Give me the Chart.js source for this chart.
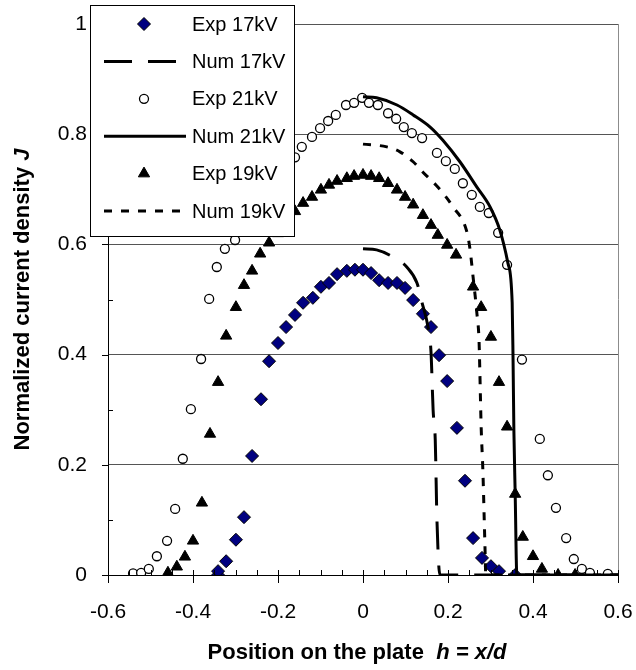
<!DOCTYPE html>
<html>
<head>
<meta charset="utf-8">
<script src="https://cdn.jsdelivr.net/npm/chart.js@4.4.0/dist/chart.umd.min.js"></script>
<style>
  html, body { margin: 0; padding: 0; background: #fff; }
  canvas { display: block; }
</style>
</head>
<body>
<canvas id="myChart" width="636" height="670"></canvas>
<script>
// Data
const exp17X = [-0.341, -0.341, -0.322, -0.299, -0.28, -0.261, -0.24, -0.221, -0.2, -0.181, -0.16, -0.141, -0.118, -0.099, -0.08, -0.061, -0.038, -0.019, 0, 0.019, 0.038, 0.059, 0.08, 0.099, 0.118, 0.141, 0.16, 0.179, 0.198, 0.221, 0.24, 0.259, 0.28, 0.301, 0.32, 0.358];
const exp17Y = [0, 0.007, 0.025, 0.064, 0.105, 0.216, 0.319, 0.388, 0.421, 0.45, 0.472, 0.494, 0.503, 0.523, 0.53, 0.546, 0.552, 0.554, 0.554, 0.548, 0.535, 0.53, 0.53, 0.521, 0.499, 0.474, 0.45, 0.399, 0.352, 0.267, 0.171, 0.067, 0.031, 0.016, 0.007, 0];

const num17X = [0, 0.032, 0.071, 0.103, 0.127, 0.139, 0.153, 0.16, 0.165, 0.17, 0.174, 0.181, 0.6];
const num17Y = [0.592, 0.59, 0.577, 0.559, 0.53, 0.494, 0.45, 0.405, 0.299, 0.245, 0.1, 0, 0];

const exp21X = [-0.541, -0.522, -0.504, -0.485, -0.461, -0.442, -0.424, -0.405, -0.381, -0.362, -0.344, -0.325, -0.301, -0.28, -0.26, -0.24, -0.22, -0.2, -0.18, -0.16, -0.144, -0.12, -0.101, -0.082, -0.064, -0.04, -0.021, -0.002, 0.014, 0.035, 0.059, 0.078, 0.096, 0.115, 0.139, 0.174, 0.195, 0.216, 0.235, 0.256, 0.275, 0.296, 0.318, 0.339, 0.374, 0.416, 0.435, 0.454, 0.478, 0.496, 0.515, 0.534, 0.576];
const exp21Y = [0.003, 0.004, 0.011, 0.034, 0.062, 0.12, 0.211, 0.301, 0.392, 0.501, 0.559, 0.592, 0.608, 0.635, 0.66, 0.685, 0.705, 0.725, 0.742, 0.758, 0.777, 0.795, 0.811, 0.824, 0.835, 0.853, 0.857, 0.866, 0.857, 0.853, 0.838, 0.828, 0.813, 0.802, 0.793, 0.766, 0.751, 0.737, 0.711, 0.69, 0.668, 0.657, 0.621, 0.563, 0.391, 0.247, 0.181, 0.122, 0.067, 0.029, 0.011, 0.004, 0.002];

const num21X = [0, 0.032, 0.08, 0.118, 0.158, 0.188, 0.228, 0.268, 0.299, 0.322, 0.341, 0.351, 0.353, 0.355, 0.358, 0.362, 0.6];
const num21Y = [0.868, 0.866, 0.853, 0.835, 0.813, 0.789, 0.75, 0.704, 0.668, 0.626, 0.566, 0.494, 0.396, 0.263, 0.151, 0, 0];

const exp19X = [-0.459, -0.438, -0.419, -0.4, -0.379, -0.36, -0.341, -0.322, -0.299, -0.28, -0.261, -0.242, -0.221, -0.2, -0.18, -0.16, -0.141, -0.12, -0.099, -0.08, -0.061, -0.038, -0.021, 0, 0.019, 0.038, 0.059, 0.08, 0.099, 0.118, 0.141, 0.16, 0.176, 0.198, 0.219, 0.259, 0.278, 0.301, 0.32, 0.339, 0.358, 0.376, 0.4, 0.421, 0.459, 0.499];
const exp19Y = [0.004, 0.015, 0.033, 0.062, 0.131, 0.256, 0.35, 0.434, 0.486, 0.526, 0.552, 0.583, 0.603, 0.62, 0.64, 0.66, 0.675, 0.686, 0.699, 0.708, 0.715, 0.72, 0.724, 0.726, 0.724, 0.72, 0.711, 0.699, 0.686, 0.672, 0.653, 0.635, 0.617, 0.599, 0.581, 0.523, 0.486, 0.432, 0.35, 0.269, 0.147, 0.069, 0.034, 0.011, 0, 0];

const num19X = [0, 0.056, 0.087, 0.118, 0.141, 0.176, 0.212, 0.245, 0.252, 0.259, 0.268, 0.273, 0.275, 0.278, 0.282, 0.287, 0.289, 0.6];
const num19Y = [0.782, 0.777, 0.768, 0.75, 0.731, 0.704, 0.668, 0.621, 0.59, 0.541, 0.475, 0.426, 0.367, 0.269, 0.191, 0.051, 0, 0];

const xTickValues = [-0.6, -0.4, -0.2, 0, 0.2, 0.4, 0.6];
const yTickValues = [0, 0.2, 0.4, 0.6, 0.8, 1];
const xTitle = ['Position on the plate  ', 'h = x/d'];
const yTitle = ['Normalized current density ', 'J'];

const FONT = "'Liberation Sans', Arial, sans-serif";

function pts(xs, ys) {
  return xs.map((x, i) => ({ x: x, y: ys[i] }));
}

const datasets = [
  { label: 'Exp 17kV', data: pts(exp17X, exp17Y), showLine: false, pointStyle: 'rectRot', pointRadius: 6.5,
    backgroundColor: '#000080', borderColor: '#000000', borderWidth: 1 },
  { label: 'Num 17kV', data: pts(num17X, num17Y), showLine: true, pointRadius: 0, borderColor: '#000',
    borderWidth: 3, borderDash: [28, 16], cubicInterpolationMode: 'monotone' },
  { label: 'Exp 21kV', data: pts(exp21X, exp21Y), showLine: false, pointStyle: 'circle', pointRadius: 4.5,
    backgroundColor: '#ffffff', borderColor: '#000000', borderWidth: 1.3 },
  { label: 'Num 21kV', data: pts(num21X, num21Y), showLine: true, pointRadius: 0, borderColor: '#000',
    borderWidth: 3, cubicInterpolationMode: 'monotone' },
  { label: 'Exp 19kV', data: pts(exp19X, exp19Y), showLine: false, pointStyle: 'triangle', pointRadius: 6.5,
    backgroundColor: '#000000', borderColor: '#000000', borderWidth: 1 },
  { label: 'Num 19kV', data: pts(num19X, num19Y), showLine: true, pointRadius: 0, borderColor: '#000',
    borderWidth: 3, borderDash: [8, 9], cubicInterpolationMode: 'monotone' }
];
// later series on top, like the original
datasets.forEach((d, i) => { d.order = 10 - i; d.fill = false; d.borderCapStyle = 'butt'; });

function fmt(v) {
  return String(Number(Number(v).toFixed(2)));
}

function noPad(s) {
  s.paddingLeft = 0; s.paddingRight = 0; s.paddingTop = 0; s.paddingBottom = 0;
}

// plot frame, minor ticks, titles, legend
const decorations = {
  id: 'decorations',
  beforeDatasetsDraw(chart) {
    const { ctx, chartArea: a } = chart;
    ctx.save();
    ctx.strokeStyle = '#8c8c8c';
    ctx.lineWidth = 1;
    ctx.beginPath();
    ctx.moveTo(a.right + 0.5, a.top);
    ctx.lineTo(a.right + 0.5, a.bottom);
    ctx.stroke();
    ctx.restore();
  },
  afterDraw(chart) {
    const { ctx, chartArea: a, scales } = chart;
    const xs = scales.x, ys = scales.y;
    ctx.save();
    ctx.strokeStyle = '#000';
    ctx.lineWidth = 1;
    ctx.beginPath();
    // x ticks
    for (let i = 0; i <= 24; i++) {
      const v = -0.6 + i * 0.05;
      const px = Math.round(xs.getPixelForValue(v)) + 0.5;
      if (i % 4 === 0) {
        ctx.moveTo(px, a.bottom - 5);
        ctx.lineTo(px, a.bottom + 8);
      } else {
        ctx.moveTo(px, a.bottom - 5);
        ctx.lineTo(px, a.bottom);
      }
    }
    // y ticks
    for (let i = 0; i <= 10; i++) {
      const v = i * 0.1;
      const py = Math.round(ys.getPixelForValue(v)) + 0.5;
      if (i % 2 === 0) {
        ctx.moveTo(a.left - 6, py);
        ctx.lineTo(a.left, py);
      } else {
        ctx.moveTo(a.left, py);
        ctx.lineTo(a.left + 5, py);
      }
    }
    ctx.stroke();

    // axis titles
    ctx.fillStyle = '#000';
    ctx.textBaseline = 'alphabetic';
    const f1 = 'bold 22px ' + FONT;
    const f2 = 'italic bold 22px ' + FONT;
    ctx.font = f1; const xa = ctx.measureText(xTitle[0]).width;
    ctx.font = f2; const xb = ctx.measureText(xTitle[1]).width;
    let sx = 357 - (xa + xb) / 2;
    ctx.textAlign = 'left';
    ctx.font = f1; ctx.fillText(xTitle[0], sx, 659);
    ctx.font = f2; ctx.fillText(xTitle[1], sx + xa, 659);

    ctx.save();
    ctx.translate(29, (a.top + a.bottom) / 2);
    ctx.rotate(-Math.PI / 2);
    ctx.font = f1; const ya = ctx.measureText(yTitle[0]).width;
    ctx.font = f2; const yb = ctx.measureText(yTitle[1]).width;
    sx = -(ya + yb) / 2;
    ctx.font = f1; ctx.fillText(yTitle[0], sx, 0);
    ctx.font = f2; ctx.fillText(yTitle[1], sx + ya, 0);
    ctx.restore();

    // legend box over the plot
    const L = 90, T = 5, R = 294, B = 236;
    ctx.fillStyle = '#fff';
    ctx.fillRect(L, T, R - L, B - T);
    ctx.strokeStyle = '#000';
    ctx.lineWidth = 1;
    ctx.strokeRect(L + 0.5, T + 0.5, R - L, B - T);
    const rowH = 37.4;
    chart.data.datasets.forEach((d, i) => {
      const cy = T + 19 + i * rowH;
      if (d.showLine) {
        ctx.save();
        ctx.strokeStyle = '#000';
        ctx.lineWidth = 3;
        ctx.lineCap = 'butt';
        ctx.setLineDash(d.borderDash || []);
        ctx.beginPath();
        ctx.moveTo(104, cy);
        ctx.lineTo(186, cy);
        ctx.stroke();
        ctx.restore();
      } else {
        ctx.fillStyle = d.backgroundColor;
        ctx.strokeStyle = d.borderColor;
        ctx.lineWidth = d.borderWidth;
        Chart.helpers.drawPoint(ctx, {
          pointStyle: d.pointStyle, radius: d.pointRadius, rotation: 0,
          borderWidth: d.borderWidth
        }, 144, cy);
      }
      ctx.fillStyle = '#000';
      ctx.font = '20px ' + FONT;
      ctx.textAlign = 'left';
      ctx.textBaseline = 'middle';
      ctx.fillText(d.label, 192, cy + 1);
    });
    ctx.restore();
  }
};

new Chart(document.getElementById('myChart').getContext('2d'), {
  type: 'scatter',
  data: { datasets: datasets },
  options: {
    responsive: false,
    animation: false,
    devicePixelRatio: 1,
    layout: { padding: { top: 24, right: 18, left: 0, bottom: 0 } },
    plugins: { legend: { display: false }, tooltip: { enabled: false } },
    scales: {
      x: {
        type: 'linear', min: -0.6, max: 0.6,
        afterBuildTicks: (s) => { s.ticks = xTickValues.map(v => ({ value: v })); },
        afterFit: (s) => { s.height = 95; noPad(s); },
        grid: { display: false, drawTicks: false },
        border: { display: true, color: '#000', width: 1 },
        ticks: { padding: 25, color: '#000', font: { family: FONT, size: 21 }, maxRotation: 0,
          callback: (v) => fmt(v) }
      },
      y: {
        type: 'linear', min: 0, max: 1,
        afterBuildTicks: (s) => { s.ticks = yTickValues.map(v => ({ value: v })); },
        afterFit: (s) => { s.width = 108; noPad(s); },
        grid: { display: true, drawTicks: false, color: '#555', lineWidth: 1 },
        border: { display: true, color: '#000', width: 1 },
        ticks: { padding: 21, color: '#000', font: { family: FONT, size: 21 },
          callback: (v) => fmt(v) }
      }
    }
  },
  plugins: [decorations]
});
</script>
</body>
</html>
